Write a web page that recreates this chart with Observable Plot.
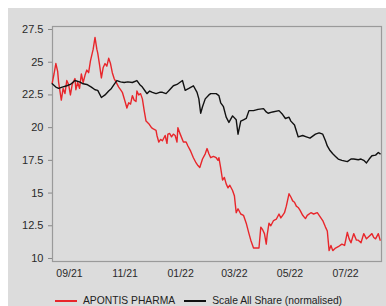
<!DOCTYPE html>
<html>
<head>
<meta charset="utf-8">
<script src="https://cdn.jsdelivr.net/npm/d3@7"></script>
<script src="https://cdn.jsdelivr.net/npm/@observablehq/plot@0.6"></script>
<style>
  html, body { margin: 0; padding: 0; background: #ffffff; width: 386px; height: 306px; overflow: hidden; font-family: "Liberation Sans", Arial, sans-serif; }
  #panel { position: absolute; left: 8px; top: 8px; width: 378px; height: 298px; background: #dcdcdc; }
  #chart { position: absolute; left: 0; top: 0; }
  #legend { position: absolute; top: 295px; left: 55px; font-size: 10.3px; color: #222; display: flex; align-items: center; white-space: nowrap; }
  .sw { display: inline-block; width: 22px; height: 2px; margin-right: 6px; }
</style>
</head>
<body>
<div id="panel"></div>
<div id="chart"></div>
<div id="legend">
  <span class="sw" style="background:#e8262b"></span><span id="l1"></span>
  <span class="sw" style="background:#111;margin-left:9px"></span><span id="l2"></span>
</div>
<script>
const seriesNames = ["APONTIS PHARMA", "Scale All Share (normalised)"];
const seriesColors = ["#e8262b", "#111111"];

const redDates = ["2021-08-13","2021-08-15","2021-08-17","2021-08-19","2021-08-20","2021-08-23","2021-08-25","2021-08-27","2021-08-29","2021-08-31","2021-09-02","2021-09-04","2021-09-07","2021-09-08","2021-09-10","2021-09-12","2021-09-14","2021-09-16","2021-09-18","2021-09-20","2021-09-22","2021-09-24","2021-09-27","2021-09-29","2021-10-01","2021-10-02","2021-10-04","2021-10-06","2021-10-08","2021-10-10","2021-10-12","2021-10-14","2021-10-16","2021-10-18","2021-10-20","2021-10-22","2021-10-25","2021-10-27","2021-10-29","2021-11-01","2021-11-03","2021-11-05","2021-11-07","2021-11-09","2021-11-11","2021-11-13","2021-11-14","2021-11-16","2021-11-18","2021-11-20","2021-11-22","2021-11-24","2021-11-27","2021-11-30","2021-12-02","2021-12-05","2021-12-06","2021-12-08","2021-12-10","2021-12-12","2021-12-15","2021-12-17","2021-12-18","2021-12-20","2021-12-22","2021-12-24","2021-12-26","2021-12-28","2021-12-29","2021-12-31","2022-01-04","2022-01-07","2022-01-09","2022-01-12","2022-01-15","2022-01-18","2022-01-20","2022-01-22","2022-01-25","2022-01-28","2022-01-30","2022-02-01","2022-02-03","2022-02-06","2022-02-09","2022-02-11","2022-02-12","2022-02-14","2022-02-16","2022-02-18","2022-02-20","2022-02-22","2022-02-24","2022-02-27","2022-03-01","2022-03-03","2022-03-05","2022-03-08","2022-03-11","2022-03-14","2022-03-17","2022-03-19","2022-03-22","2022-03-25","2022-03-28","2022-03-30","2022-04-01","2022-04-03","2022-04-05","2022-04-06","2022-04-08","2022-04-10","2022-04-13","2022-04-16","2022-04-19","2022-04-21","2022-04-23","2022-04-25","2022-04-27","2022-04-30","2022-05-02","2022-05-04","2022-05-06","2022-05-08","2022-05-10","2022-05-12","2022-05-15","2022-05-18","2022-05-20","2022-05-24","2022-05-27","2022-05-31","2022-06-03","2022-06-06","2022-06-09","2022-06-11","2022-06-13","2022-06-15","2022-06-17","2022-06-20","2022-06-23","2022-06-27","2022-06-30","2022-07-03","2022-07-05","2022-07-07","2022-07-10","2022-07-13","2022-07-15","2022-07-18","2022-07-21","2022-07-24","2022-07-27","2022-07-30","2022-08-01","2022-08-03","2022-08-06","2022-08-08"];
const redValues = [23.4,24.1,24.9,24.3,23.5,22.1,23.0,22.6,23.6,23.3,22.5,23.3,23.75,22.9,23.45,23.0,24.1,23.45,24.0,24.4,24.2,25.1,26.0,26.9,26.0,25.7,24.8,23.8,24.6,24.9,24.7,25.3,24.9,24.2,23.75,23.5,23.1,22.9,22.7,22.0,21.5,21.9,21.8,22.45,22.1,22.0,22.8,22.5,22.6,22.2,21.3,20.5,20.3,20.0,19.9,19.8,19.4,18.9,19.1,19.0,19.4,18.8,19.5,19.55,19.3,19.5,19.4,18.9,20.0,19.6,18.9,18.9,18.6,18.2,17.7,17.3,17.1,16.95,17.6,18.0,18.4,18.0,17.7,17.8,17.7,17.5,17.7,16.9,16.0,16.2,15.7,15.4,15.6,15.2,14.8,13.5,13.8,13.4,13.3,12.7,11.9,11.4,10.8,10.8,10.8,12.4,12.2,11.9,11.1,11.8,12.7,12.5,12.9,13.0,13.4,13.1,13.3,13.5,14.0,14.95,14.7,14.4,14.3,14.0,13.9,13.7,13.3,13.05,13.3,13.5,13.4,13.5,13.2,12.9,12.4,12.1,10.6,11.0,10.6,10.8,10.9,11.1,11.0,12.0,11.5,11.2,11.9,11.4,11.4,11.2,11.9,11.5,11.7,11.9,11.6,11.5,11.9,11.4];

const blackDates = ["2021-08-13","2021-08-17","2021-08-20","2021-08-24","2021-08-29","2021-09-02","2021-09-07","2021-09-12","2021-09-16","2021-09-20","2021-09-25","2021-09-29","2021-10-02","2021-10-06","2021-10-10","2021-10-14","2021-10-17","2021-10-20","2021-10-23","2021-10-27","2021-10-31","2021-11-04","2021-11-09","2021-11-14","2021-11-17","2021-11-20","2021-11-23","2021-11-25","2021-11-28","2021-12-01","2021-12-05","2021-12-09","2021-12-12","2021-12-16","2021-12-20","2021-12-24","2021-12-28","2022-01-03","2022-01-06","2022-01-10","2022-01-15","2022-01-19","2022-01-21","2022-01-23","2022-01-25","2022-01-28","2022-02-01","2022-02-03","2022-02-09","2022-02-12","2022-02-14","2022-02-17","2022-02-20","2022-02-23","2022-02-27","2022-03-03","2022-03-05","2022-03-08","2022-03-11","2022-03-14","2022-03-17","2022-03-22","2022-03-27","2022-04-02","2022-04-05","2022-04-07","2022-04-12","2022-04-19","2022-04-23","2022-04-26","2022-04-30","2022-05-02","2022-05-06","2022-05-10","2022-05-15","2022-05-19","2022-05-23","2022-05-29","2022-06-02","2022-06-06","2022-06-09","2022-06-11","2022-06-14","2022-06-17","2022-06-20","2022-06-23","2022-06-27","2022-07-03","2022-07-07","2022-07-10","2022-07-15","2022-07-18","2022-07-21","2022-07-24","2022-07-27","2022-07-30","2022-08-03","2022-08-06","2022-08-08"];
const blackValues = [23.35,23.1,23.0,23.1,23.2,23.3,23.6,23.5,23.35,23.3,23.1,22.9,22.85,22.3,22.5,22.8,23.0,23.3,23.6,23.5,23.45,23.5,23.45,23.6,23.3,23.1,22.8,22.6,22.8,22.7,22.6,22.7,22.7,22.6,22.9,23.2,23.3,23.6,22.85,23.0,23.2,22.7,22.2,21.1,21.6,22.2,22.5,22.6,22.6,22.45,21.9,21.6,20.8,20.4,20.9,20.6,19.5,20.5,20.6,20.7,21.3,21.3,21.4,21.45,21.2,21.1,21.2,21.3,21.0,20.7,20.8,20.5,20.2,19.3,19.4,19.3,19.2,19.5,19.6,19.5,19.0,18.6,18.25,18.0,17.8,17.6,17.5,17.4,17.6,17.6,17.55,17.6,17.5,17.3,17.6,17.85,17.9,18.1,18.0];

const yTicks = [10, 12.5, 15, 17.5, 20, 22.5, 25, 27.5];
const yTickLabels = ["10", "12.5", "15", "17.5", "20", "22.5", "25", "27.5"];
const xTickDates = ["2021-09-01","2021-11-01","2022-01-01","2022-03-01","2022-05-01","2022-07-01"];
const xTickLabels = ["09/21","11/21","01/22","03/22","05/22","07/22"];

const xTicks = xTickDates.map(d => new Date(d));
const rows = [
  ...redDates.map((d, i) => ({date: new Date(d), value: redValues[i], series: seriesNames[0]})),
  ...blackDates.map((d, i) => ({date: new Date(d), value: blackValues[i], series: seriesNames[1]}))
];

document.getElementById("l1").textContent = seriesNames[0];
document.getElementById("l2").textContent = seriesNames[1];

const chart = Plot.plot({
  width: 386,
  height: 286,
  marginLeft: 52,
  marginRight: 5,
  marginTop: 26,
  marginBottom: 25,
  style: {background: "transparent", fontFamily: "Liberation Sans, Arial, sans-serif", color: "#2a2a2a"},
  x: {type: "utc", domain: [new Date("2021-08-13T08:00Z"), new Date("2022-08-09T12:00Z")]},
  y: {domain: [9.77, 27.73]},
  color: {domain: seriesNames, range: seriesColors},
  marks: [
    Plot.frame({stroke: "#9a9a9a", strokeWidth: 1.2}),
    Plot.axisY({ticks: yTicks, tickFormat: d => yTickLabels[yTicks.indexOf(d)], tickSize: 4, tickPadding: 5, fontSize: 11, stroke: "#888", label: null}),
    Plot.axisX({ticks: xTicks, tickFormat: d => xTickLabels[xTicks.findIndex(t => +t === +d)], tickSize: 0, tickPadding: 8, fontSize: 10.5, label: null}),
    Plot.lineY(rows, {x: "date", y: "value", z: "series", stroke: "series", strokeWidth: 1.4, curve: "linear"})
  ]
});
document.getElementById("chart").appendChild(chart);
</script>
</body>
</html>
